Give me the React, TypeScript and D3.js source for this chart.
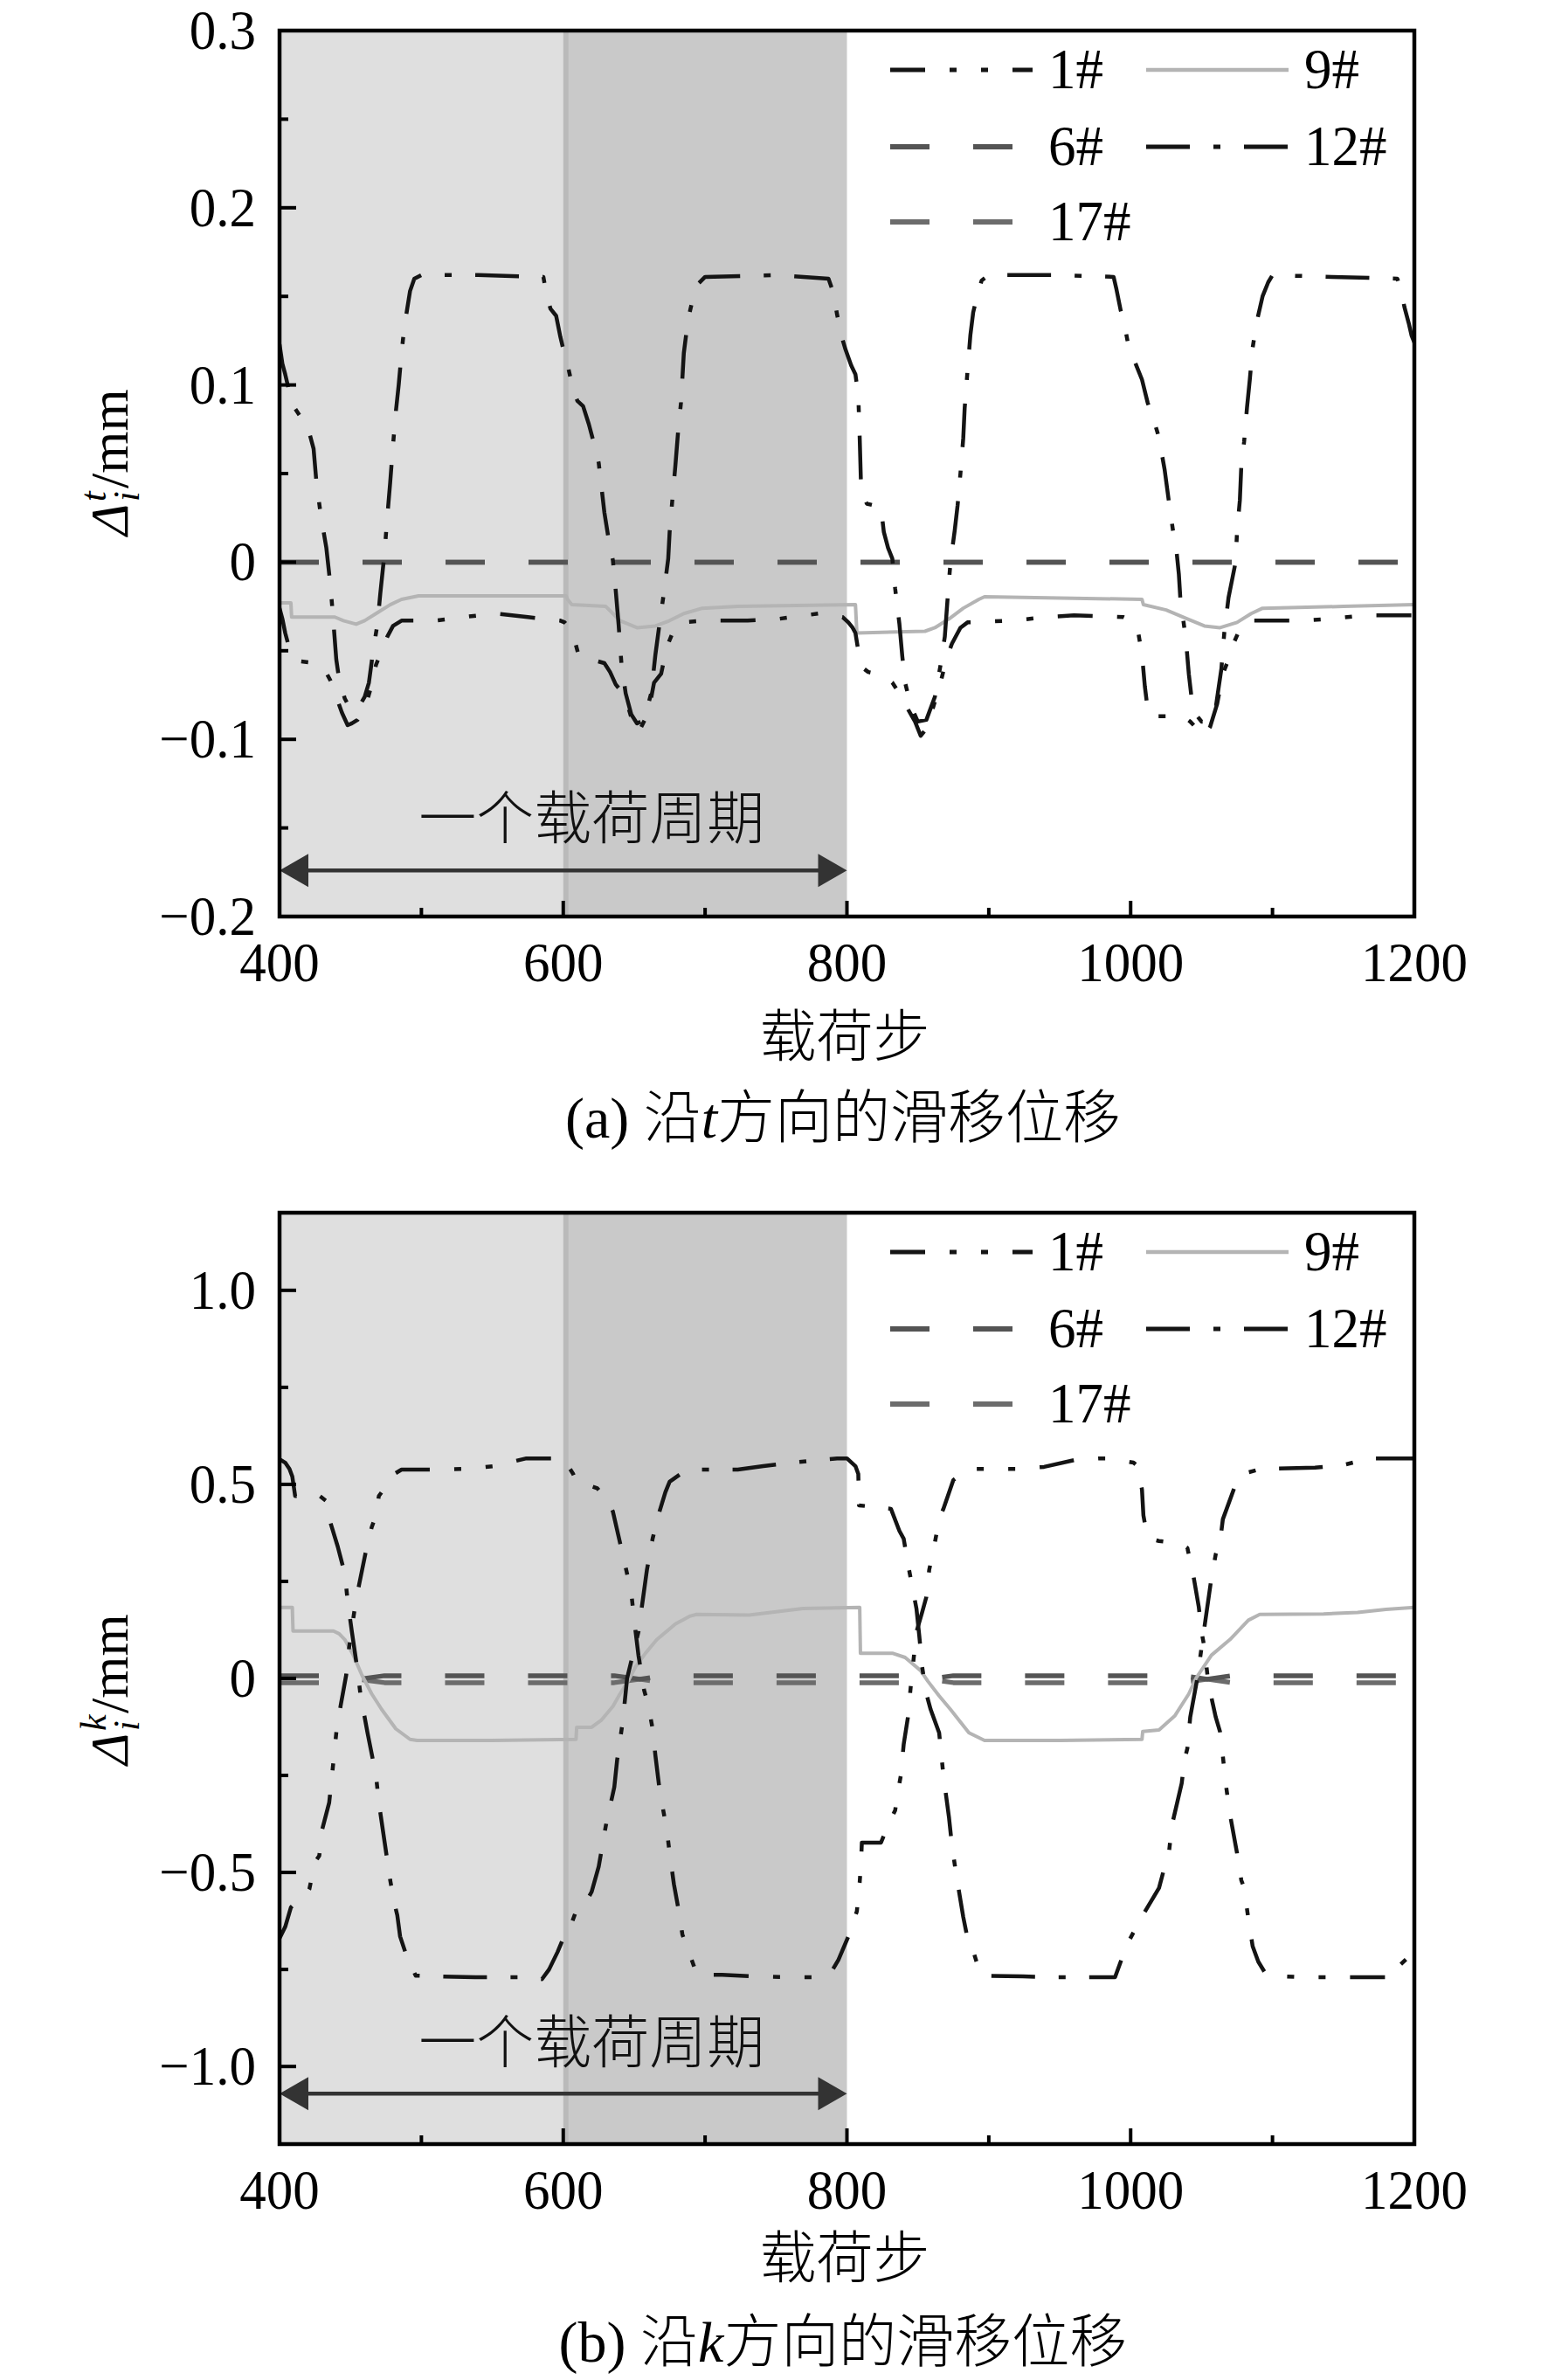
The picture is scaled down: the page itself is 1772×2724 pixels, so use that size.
import React from "react";
import * as d3 from "d3";

type Pt = [number, number];

// load-step axis
const xTicks = [400, 600, 800, 1000, 1200];
const xMinor = [500, 700, 900, 1100];

// (a) slip along t
const tTicks = [-0.2, -0.1, 0, 0.1, 0.2, 0.3];
const tMinor = [-0.15, -0.05, 0.05, 0.15, 0.25];

const t1: Pt[] = [
  [400, -0.026], [402, -0.032], [404, -0.04], [406, -0.046], [409, -0.052], [415, -0.056], [426, -0.057],
  [432, -0.061], [436, -0.067], [440, -0.076], [444, -0.085], [448, -0.092], [451, -0.091], [455, -0.089],
  [460, -0.083], [464, -0.072], [468, -0.058], [472, -0.05], [476, -0.042], [480, -0.036], [486, -0.033],
  [510, -0.033], [530, -0.031], [552, -0.029], [575, -0.031], [598, -0.033],
  [601, -0.034], [604, -0.037], [607, -0.041], [611, -0.053], [620, -0.055], [629, -0.057], [633, -0.062],
  [637, -0.069], [643, -0.075], [647, -0.085], [651, -0.096], [655, -0.093], [660, -0.085], [664, -0.068],
  [669, -0.063], [673, -0.048], [678, -0.038], [683, -0.034], [700, -0.033], [730, -0.033], [752, -0.032],
  [780, -0.029], [797, -0.031],
  [801, -0.034], [804, -0.037], [806, -0.04], [808, -0.05], [810, -0.059], [815, -0.062], [826, -0.064],
  [832, -0.068], [837, -0.074], [843, -0.083], [848, -0.09], [852, -0.098], [856, -0.094], [860, -0.084],
  [866, -0.068], [870, -0.055], [874, -0.046], [880, -0.037], [885, -0.034], [917, -0.033], [940, -0.031],
  [960, -0.03], [995, -0.031],
  [1001, -0.033], [1005, -0.038], [1008, -0.052], [1010, -0.07], [1012, -0.083], [1014, -0.087], [1037, -0.087],
  [1042, -0.09], [1048, -0.095], [1052, -0.098], [1056, -0.093], [1061, -0.08], [1065, -0.063], [1069, -0.055],
  [1073, -0.045], [1078, -0.036], [1082, -0.033], [1120, -0.033], [1140, -0.032], [1165, -0.03], [1200, -0.03],
];

const t12: Pt[] = [
  [400, 0.123], [402, 0.112], [404, 0.106], [409, 0.089], [414, 0.083], [420, 0.076], [424, 0.064], [426, 0.045],
  [429, 0.027], [433, 0.008], [436, -0.014], [438, -0.034], [440, -0.055], [442, -0.066], [446, -0.077],
  [450, -0.083], [455, -0.083], [460, -0.076], [463, -0.068], [466, -0.05], [469, -0.035], [471, -0.018],
  [474, 0.005], [476, 0.026], [478, 0.045], [480, 0.066], [482, 0.085], [484, 0.1], [486, 0.118], [488, 0.133],
  [490, 0.143], [492, 0.153], [495, 0.16], [500, 0.162], [540, 0.162], [586, 0.161],
  [588, 0.152], [591, 0.143], [595, 0.139], [598, 0.127], [601, 0.117], [604, 0.108], [607, 0.097], [610, 0.091],
  [614, 0.088], [618, 0.078], [622, 0.066], [625, 0.056], [627, 0.042], [629, 0.028], [632, 0.013], [635, 0.001],
  [637, -0.016], [639, -0.035], [641, -0.057], [644, -0.074], [648, -0.086], [652, -0.091], [657, -0.089],
  [662, -0.074], [665, -0.052], [668, -0.034], [671, -0.017], [674, 0.002], [675, 0.017], [677, 0.036],
  [679, 0.054], [681, 0.074], [683, 0.09], [685, 0.118], [688, 0.137], [692, 0.151], [695, 0.157], [700, 0.161],
  [750, 0.162], [787, 0.16],
  [790, 0.153], [793, 0.14], [796, 0.128], [799, 0.12], [803, 0.111], [806, 0.106], [808, 0.094], [809, 0.07],
  [810, 0.041], [814, 0.033], [824, 0.031], [826, 0.017], [829, 0.008], [832, 0.002], [834, -0.015],
  [837, -0.035], [839, -0.053], [841, -0.068], [845, -0.081], [850, -0.09], [856, -0.089], [862, -0.076],
  [866, -0.058], [869, -0.042], [871, -0.02], [873, 0.0], [876, 0.018], [878, 0.032], [880, 0.05], [882, 0.07],
  [883, 0.087], [885, 0.108], [887, 0.128], [889, 0.141], [892, 0.151], [895, 0.159], [900, 0.162], [950, 0.162],
  [988, 0.161],
  [990, 0.154], [993, 0.142], [995, 0.137], [998, 0.124], [1003, 0.113], [1008, 0.103], [1012, 0.09],
  [1016, 0.081], [1019, 0.073], [1022, 0.061], [1024, 0.052], [1027, 0.034], [1030, 0.017], [1032, 0.009],
  [1034, -0.007], [1035, -0.02], [1039, -0.044], [1041, -0.063], [1043, -0.077], [1046, -0.086], [1050, -0.09],
  [1055, -0.09], [1060, -0.082], [1064, -0.06], [1066, -0.04], [1069, -0.02], [1072, -0.008], [1074, 0.0],
  [1075, 0.017], [1077, 0.035], [1078, 0.054], [1080, 0.068], [1082, 0.087], [1084, 0.103], [1086, 0.121],
  [1089, 0.136], [1093, 0.15], [1097, 0.158], [1100, 0.162], [1142, 0.161], [1188, 0.16], [1191, 0.152],
  [1193, 0.144], [1196, 0.135], [1198, 0.128], [1200, 0.124],
];

const t9: Pt[] = [
  [400, -0.023], [408, -0.023], [408.5, -0.031], [439, -0.031], [445, -0.033], [454, -0.035], [460, -0.033],
  [468, -0.029], [478, -0.024], [486, -0.021], [498, -0.019], [602, -0.019], [603, -0.021], [606, -0.024],
  [630, -0.025], [635, -0.029], [640, -0.033], [652, -0.037], [665, -0.036], [675, -0.033], [685, -0.029],
  [698, -0.026], [723, -0.025], [806, -0.024], [807, -0.04], [855, -0.039], [862, -0.037], [872, -0.032],
  [882, -0.026], [893, -0.021], [897, -0.0195], [1008, -0.021], [1009, -0.024], [1025, -0.027], [1040, -0.032],
  [1052, -0.036], [1063, -0.037], [1075, -0.034], [1085, -0.029], [1093, -0.026], [1150, -0.025], [1200, -0.024],
];

const t6: Pt[] = [[400, 0], [1200, 0]];
const t17: Pt[] = [[400, 0], [1200, 0]];

// (b) slip along k
const kTicks = [-1.0, -0.5, 0, 0.5, 1.0];
const kMinor = [-0.75, -0.25, 0.25, 0.75];

const k1: Pt[] = [
  [400, -0.67], [404, -0.64], [408, -0.59], [412, -0.575], [418, -0.563], [421, -0.543], [425, -0.473],
  [428, -0.457], [430, -0.39], [435, -0.32], [437, -0.25], [440, -0.14], [443, -0.072], [447, 0.009],
  [449, 0.079], [453, 0.18], [456, 0.24], [461, 0.33], [465, 0.39], [468, 0.42], [470, 0.47], [474, 0.49],
  [480, 0.525], [486, 0.538], [510, 0.538], [534, 0.54], [551, 0.547], [557, 0.552], [574, 0.567], [599, 0.567],
  [603, 0.55], [607, 0.527], [609, 0.507], [616, 0.5], [624, 0.49], [627, 0.477], [632, 0.455], [635, 0.43],
  [640, 0.35], [644, 0.286], [648, 0.22], [650, 0.15], [653, 0.06], [657, -0.03], [660, -0.07], [663, -0.13],
  [665, -0.2], [668, -0.29], [671, -0.35], [673, -0.39], [675, -0.45], [678, -0.53], [681, -0.59], [684, -0.66],
  [688, -0.7], [692, -0.74], [694, -0.76], [700, -0.764], [712, -0.764], [736, -0.768], [760, -0.77],
  [782, -0.77], [790, -0.75], [794, -0.725], [801, -0.665], [807, -0.6], [809, -0.525], [810, -0.47],
  [810.5, -0.423], [824, -0.423], [830, -0.37], [834, -0.34], [836, -0.29], [838, -0.25], [840, -0.17],
  [843, -0.1], [845, -0.02], [849, 0.12], [853, 0.17], [856, 0.21], [858, 0.28], [861, 0.33], [865, 0.41],
  [868, 0.437], [875, 0.511], [882, 0.53], [891, 0.54], [920, 0.54], [939, 0.545], [961, 0.563], [979, 0.567],
  [985, 0.567], [1002, 0.556], [1005, 0.547], [1008, 0.486], [1009, 0.42], [1010, 0.4], [1013, 0.36],
  [1020, 0.354], [1036, 0.347], [1040, 0.336], [1044, 0.27], [1048, 0.185], [1050, 0.12], [1052, 0.08],
  [1055, -0.02], [1057, -0.05], [1060, -0.1], [1063, -0.137], [1065, -0.2], [1067, -0.27], [1070, -0.35],
  [1075, -0.45], [1078, -0.52], [1080, -0.54], [1083, -0.62], [1086, -0.69], [1090, -0.73], [1095, -0.76],
  [1098, -0.766], [1122, -0.77], [1167, -0.77], [1186, -0.77], [1188, -0.745], [1197, -0.714], [1200, -0.7],
];

const k12: Pt[] = [
  [400, 0.565], [404, 0.556], [407, 0.54], [409, 0.52], [411, 0.47], [428, 0.471], [433, 0.457], [436, 0.4],
  [441, 0.34], [446, 0.27], [448, 0.2], [451, 0.12], [455, 0.02], [457, -0.04], [462, -0.14], [468, -0.25],
  [470, -0.32], [474, -0.42], [478, -0.52], [481, -0.58], [483, -0.61], [485, -0.665], [490, -0.72],
  [496, -0.766], [515, -0.768], [538, -0.77], [570, -0.77], [585, -0.775], [590, -0.75], [596, -0.705],
  [600, -0.67], [605, -0.64], [609, -0.6], [617, -0.57], [620, -0.55], [625, -0.485], [630, -0.38],
  [636, -0.28], [638, -0.21], [642, -0.11], [645, 0.0], [649, 0.06], [653, 0.12], [656, 0.2], [659, 0.28],
  [663, 0.36], [667, 0.42], [672, 0.48], [675, 0.507], [682, 0.525], [690, 0.538], [723, 0.538], [741, 0.547],
  [762, 0.556], [793, 0.567], [800, 0.567], [806, 0.547], [808, 0.527], [808.5, 0.446], [831, 0.437],
  [837, 0.38], [840, 0.36], [843, 0.295], [849, 0.18], [851, 0.11], [853, 0.03], [856, -0.04], [859, -0.08],
  [865, -0.14], [868, -0.25], [872, -0.36], [874, -0.43], [877, -0.505], [882, -0.615], [885, -0.67],
  [888, -0.69], [893, -0.75], [897, -0.766], [924, -0.768], [947, -0.77], [989, -0.77], [990, -0.76],
  [997, -0.69], [999, -0.675], [1007, -0.62], [1020, -0.54], [1024, -0.485], [1027, -0.45], [1029, -0.38],
  [1036, -0.27], [1038, -0.21], [1040, -0.18], [1042, -0.1], [1047, 0.0], [1050, 0.08], [1057, 0.26],
  [1060, 0.32], [1063, 0.35], [1065, 0.41], [1069, 0.45], [1072, 0.48], [1075, 0.51], [1082, 0.53],
  [1092, 0.54], [1130, 0.543], [1150, 0.55], [1169, 0.567], [1200, 0.567],
];

const k9: Pt[] = [
  [400, 0.183], [409, 0.183], [409.5, 0.122], [438, 0.122], [442, 0.115], [446, 0.1], [452, 0.06], [458, 0.009],
  [465, -0.04], [472, -0.08], [482, -0.13], [492, -0.157], [497, -0.16], [550, -0.16], [609, -0.157],
  [609.5, -0.126], [620, -0.126], [627, -0.107], [635, -0.072], [640, -0.04], [646, -0.005], [651, 0.03],
  [658, 0.065], [666, 0.1], [679, 0.14], [689, 0.16], [694, 0.165], [731, 0.163], [769, 0.18], [809, 0.183],
  [809.5, 0.065], [832, 0.065], [841, 0.054], [852, 0.02], [857, -0.007], [865, -0.045], [873, -0.08],
  [886, -0.14], [897, -0.16], [950, -0.16], [1008, -0.157], [1008.5, -0.137], [1020, -0.133], [1031, -0.097],
  [1041, -0.04], [1046, 0.0], [1057, 0.06], [1070, 0.1], [1083, 0.15], [1091, 0.165], [1136, 0.166],
  [1160, 0.17], [1180, 0.178], [1200, 0.183],
];

const k6: Pt[] = [
  [400, 0.007], [438, 0.007], [456, -0.002], [474, 0.007], [636, 0.007], [654, -0.002], [672, 0.007],
  [839, 0.007], [857, -0.002], [875, 0.007], [1036, 0.007], [1054, -0.002], [1072, 0.007], [1200, 0.007],
];
const k17: Pt[] = [
  [400, -0.011], [438, -0.011], [456, -0.002], [474, -0.011], [636, -0.011], [654, -0.002], [672, -0.011],
  [839, -0.011], [857, -0.002], [875, -0.011], [1036, -0.011], [1054, -0.002], [1072, -0.011], [1200, -0.011],
];

const styles: Record<string, { stroke: string; width: number; dash?: string }> = {
  "1#": { stroke: "#141414", width: 4.5, dash: "40 28 8 28 8 28" },
  "6#": { stroke: "#545454", width: 5.5, dash: "45 50" },
  "9#": { stroke: "#b4b4b4", width: 4 },
  "12#": { stroke: "#141414", width: 4.5, dash: "50 27 8 27" },
  "17#": { stroke: "#6c6c6c", width: 5.5, dash: "45 50" },
};
const drawOrder = ["17#", "6#", "9#", "1#", "12#"];
const legendItems = [
  { name: "1#", col: 0, row: 0 },
  { name: "9#", col: 1, row: 0 },
  { name: "6#", col: 0, row: 1 },
  { name: "12#", col: 1, row: 1 },
  { name: "17#", col: 0, row: 2 },
];

const SERIF = "'Liberation Serif', 'Times New Roman', serif";
const CJK = "'Liberation Serif', 'Noto Sans CJK SC', sans-serif";
const X0 = 320;
const X1 = 1619;

const fmt = d3.format(".1f");
const tickText = (v: number) => (Math.abs(v) < 1e-9 ? "0" : fmt(v));

type PanelProps = {
  id: string;
  top: number;
  bottom: number;
  domain: [number, number];
  ticks: number[];
  minor: number[];
  series: Record<string, Pt[]>;
  sup: string;
  letter: string;
  labelCy: number;
  arrowV: number;
  noteV: number;
  xLabelY: number;
  captionY: number;
};

// Latin text slightly stretched vertically like the original condensed Times
const Stretch = ({ x, y, anchor, size, children }: any) => (
  <text
    transform={`translate(${x},${y}) scale(1,1.04)`}
    textAnchor={anchor}
    fontFamily={SERIF}
    fontSize={size}
    fill="#000"
  >
    {children}
  </text>
);

const Panel = (p: PanelProps) => {
  const xs = d3.scaleLinear().domain([400, 1200]).range([X0, X1]);
  const ys = d3.scaleLinear().domain(p.domain).range([p.bottom, p.top]);
  const line = d3
    .line<Pt>()
    .x((d) => xs(d[0]))
    .y((d) => ys(d[1]));

  const ay = ys(p.arrowV);
  const ax0 = xs(400);
  const ax1 = xs(800);
  const headL = 33;
  const headW = 19;

  const legX = [X0 + 699, X0 + 992];
  const legRows = [p.top + 45, p.top + 133, p.top + 219];

  return (
    <g>
      <defs>
        <clipPath id={`clip-${p.id}`}>
          <rect x={X0} y={p.top} width={X1 - X0} height={p.bottom - p.top} />
        </clipPath>
      </defs>

      {/* load-cycle shading */}
      <rect x={xs(400)} y={p.top} width={xs(600) - xs(400)} height={p.bottom - p.top} fill="#dfdfdf" />
      <rect x={xs(600)} y={p.top} width={xs(800) - xs(600)} height={p.bottom - p.top} fill="#c9c9c9" />
      <line x1={xs(600) + 3} x2={xs(600) + 3} y1={p.top} y2={p.bottom} stroke="#bababa" strokeWidth={6} />

      <g clipPath={`url(#clip-${p.id})`}>
        {drawOrder.map((name) => {
          const s = styles[name];
          return (
            <path
              key={name}
              d={line(p.series[name]) || ""}
              fill="none"
              stroke={s.stroke}
              strokeWidth={s.width}
              strokeDasharray={s.dash}
              strokeLinejoin="round"
            />
          );
        })}
      </g>

      {/* one load period arrow */}
      <line x1={ax0 + headL - 2} x2={ax1 - headL + 2} y1={ay} y2={ay} stroke="#333" strokeWidth={4.5} />
      <path d={`M${ax0},${ay} L${ax0 + headL},${ay - headW} L${ax0 + headL},${ay + headW} Z`} fill="#333" />
      <path d={`M${ax1},${ay} L${ax1 - headL},${ay - headW} L${ax1 - headL},${ay + headW} Z`} fill="#333" />
      <text
        x={xs(620)}
        y={ys(p.noteV)}
        textAnchor="middle"
        fontFamily={CJK}
        fontSize={66}
        fontWeight={300}
        fill="#111"
      >
        一个载荷周期
      </text>

      {/* legend */}
      {legendItems.map((it) => {
        const s = styles[it.name];
        const x = legX[it.col];
        const y = legRows[it.row];
        return (
          <g key={it.name}>
            <line
              x1={x}
              x2={x + 163}
              y1={y}
              y2={y}
              stroke={s.stroke}
              strokeWidth={s.width + 0.5}
              strokeDasharray={s.dash}
            />
            <Stretch x={x + 181} y={y + 21} anchor="start" size={63}>
              {it.name}
            </Stretch>
          </g>
        );
      })}

      {/* ticks (inward) */}
      {p.ticks.map((v) => (
        <g key={`yt${v}`}>
          <line x1={X0} x2={X0 + 19} y1={ys(v)} y2={ys(v)} stroke="#000" strokeWidth={4} />
          <Stretch x={X0 - 27} y={ys(v) + 21} anchor="end" size={61}>
            {tickText(v)}
          </Stretch>
        </g>
      ))}
      {p.minor.map((v) => (
        <line key={`ym${v}`} x1={X0} x2={X0 + 10} y1={ys(v)} y2={ys(v)} stroke="#000" strokeWidth={4} />
      ))}
      {xTicks.map((v) => (
        <g key={`xt${v}`}>
          <line x1={xs(v)} x2={xs(v)} y1={p.bottom} y2={p.bottom - 18} stroke="#000" strokeWidth={4} />
          <Stretch x={xs(v)} y={p.bottom + 74} anchor="middle" size={61}>
            {v}
          </Stretch>
        </g>
      ))}
      {xMinor.map((v) => (
        <line key={`xm${v}`} x1={xs(v)} x2={xs(v)} y1={p.bottom} y2={p.bottom - 10} stroke="#000" strokeWidth={4} />
      ))}

      {/* frame */}
      <rect x={X0} y={p.top} width={X1 - X0} height={p.bottom - p.top} fill="none" stroke="#000" strokeWidth={4.5} />

      {/* y label Δ_i^t/mm */}
      <g transform={`translate(146,${p.labelCy}) rotate(-90)`} fontFamily={SERIF} fill="#000">
        <text x={-88} y={0} fontSize={62} fontStyle="italic">
          Δ
        </text>
        <text x={-49} y={-25} fontSize={42} fontStyle="italic">
          {p.sup}
        </text>
        <text x={-49} y={13} fontSize={42} fontStyle="italic">
          i
        </text>
        <text x={p.sup === "k" ? -29 : -34} y={0} fontSize={62}>
          /mm
        </text>
      </g>

      {/* x label and caption */}
      <text x={967} y={p.xLabelY} textAnchor="middle" fontFamily={CJK} fontSize={65} fontWeight={300} fill="#000">
        载荷步
      </text>
      <text x={965} y={p.captionY} textAnchor="middle" fontFamily={CJK} fontSize={66} fontWeight={300} fill="#000">
        ({p.letter}) 沿<tspan fontStyle="italic">{p.sup}</tspan>方向的滑移位移
      </text>
    </g>
  );
};

export default function App() {
  return (
    <svg
      width={1772}
      height={2724}
      viewBox="0 0 1772 2724"
      style={{ position: "absolute", left: 0, top: 0, background: "#fff" }}
    >
      <rect width={1772} height={2724} fill="#fff" />
      <Panel
        id="a"
        top={35}
        bottom={1049}
        domain={[-0.2, 0.3]}
        ticks={tTicks}
        minor={tMinor}
        series={{ "1#": t1, "6#": t6, "9#": t9, "12#": t12, "17#": t17 }}
        sup="t"
        letter="a"
        labelCy={525}
        arrowV={-0.174}
        noteV={-0.156}
        xLabelY={1209}
        captionY={1302}
      />
      <Panel
        id="b"
        top={1388}
        bottom={2454}
        domain={[-1.2, 1.2]}
        ticks={kTicks}
        minor={kMinor}
        series={{ "1#": k1, "6#": k6, "9#": k9, "12#": k12, "17#": k17 }}
        sup="k"
        letter="b"
        labelCy={1932}
        arrowV={-1.07}
        noteV={-0.99}
        xLabelY={2607}
        captionY={2703}
      />
    </svg>
  );
}
